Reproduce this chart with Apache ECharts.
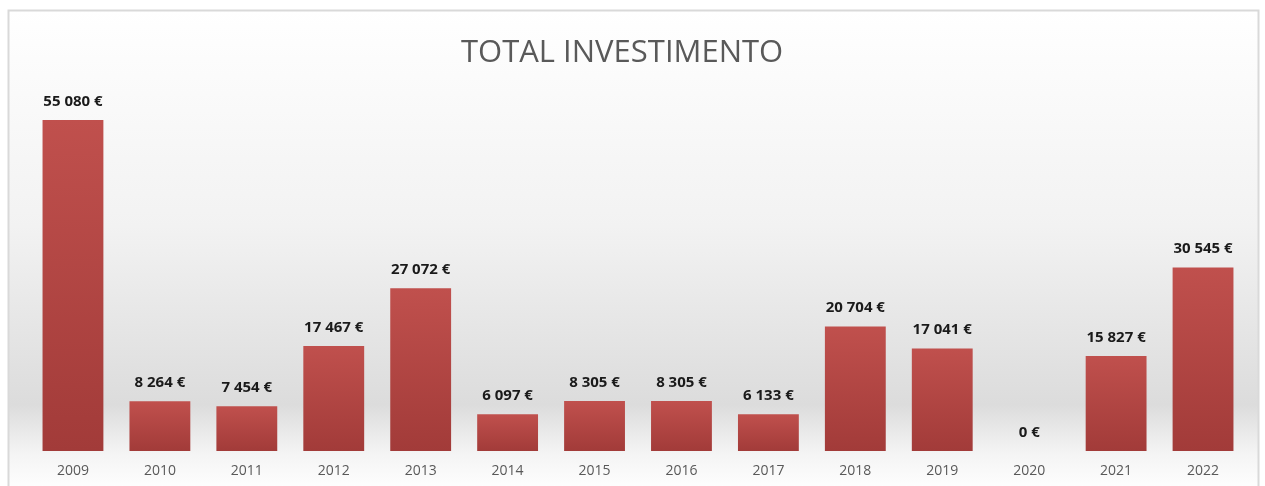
<!DOCTYPE html>
<html>
<head>
<meta charset="utf-8">
<script src="https://cdn.jsdelivr.net/npm/echarts@6/dist/echarts.min.js"></script>
<style>
  html, body { margin: 0; padding: 0; background: #fff; }
  #chart { width: 1265px; height: 486px; }
</style>
</head>
<body>
<div id="chart"></div>
<script>
// dados do gráfico
const years = ['2009', '2010', '2011', '2012', '2013', '2014', '2015', '2016', '2017', '2018', '2019', '2020', '2021', '2022']
const investimento = [55080, 8264, 7454, 17467, 27072, 6097, 8305, 8305, 6133, 20704, 17041, 0, 15827, 30545]

const fmtEuro = v => String(v).replace(/\B(?=(\d{3})+(?!\d))/g, ' ') + ' €'

const chart = echarts.init(document.getElementById('chart'))

chart.setOption({
  animation: false,
  backgroundColor: '#ffffff',
  graphic: [{
    type: 'rect',
    z: -10,
    shape: { x: 8.5, y: 10.5, width: 1250, height: 480 },
    style: {
      fill: new echarts.graphic.LinearGradient(0, 0, 0, 1, [
        { offset: 0, color: '#ffffff' },
        { offset: 0.45, color: '#f2f2f2' },
        { offset: 0.82, color: '#dcdcdc' },
        { offset: 0.92, color: '#f4f4f4' },
        { offset: 1, color: '#ffffff' }
      ]),
      stroke: '#d9d9d9',
      lineWidth: 2
    }
  }],
  title: {
    text: 'TOTAL INVESTIMENTO',
    left: 456,
    top: 33,
    textStyle: { fontFamily: 'Open Sans', fontSize: 31, fontWeight: 'normal', color: '#595959' }
  },
  grid: { left: 29.5, right: 18.5, top: 90.5, bottom: 35 },
  xAxis: {
    type: 'category',
    data: years,
    axisLine: { show: false },
    axisTick: { show: false },
    axisLabel: { color: '#595959', fontFamily: 'Open Sans', fontSize: 14, margin: 13 }
  },
  yAxis: {
    type: 'value',
    min: 0,
    max: 60000,
    show: false,
    splitLine: { show: false }
  },
  series: [{
    type: 'bar',
    data: investimento,
    barWidth: '70%',
    itemStyle: {
      color: new echarts.graphic.LinearGradient(0, 0, 0, 1, [
        { offset: 0, color: '#c0504d' },
        { offset: 1, color: '#a23b39' }
      ])
    },
    label: {
      show: true,
      position: 'top',
      distance: 11,
      color: '#1a1a1a',
      fontFamily: 'Open Sans',
      fontWeight: 'bold',
      fontSize: 15,
      formatter: p => fmtEuro(p.value)
    }
  }]
})
</script>
</body>
</html>
